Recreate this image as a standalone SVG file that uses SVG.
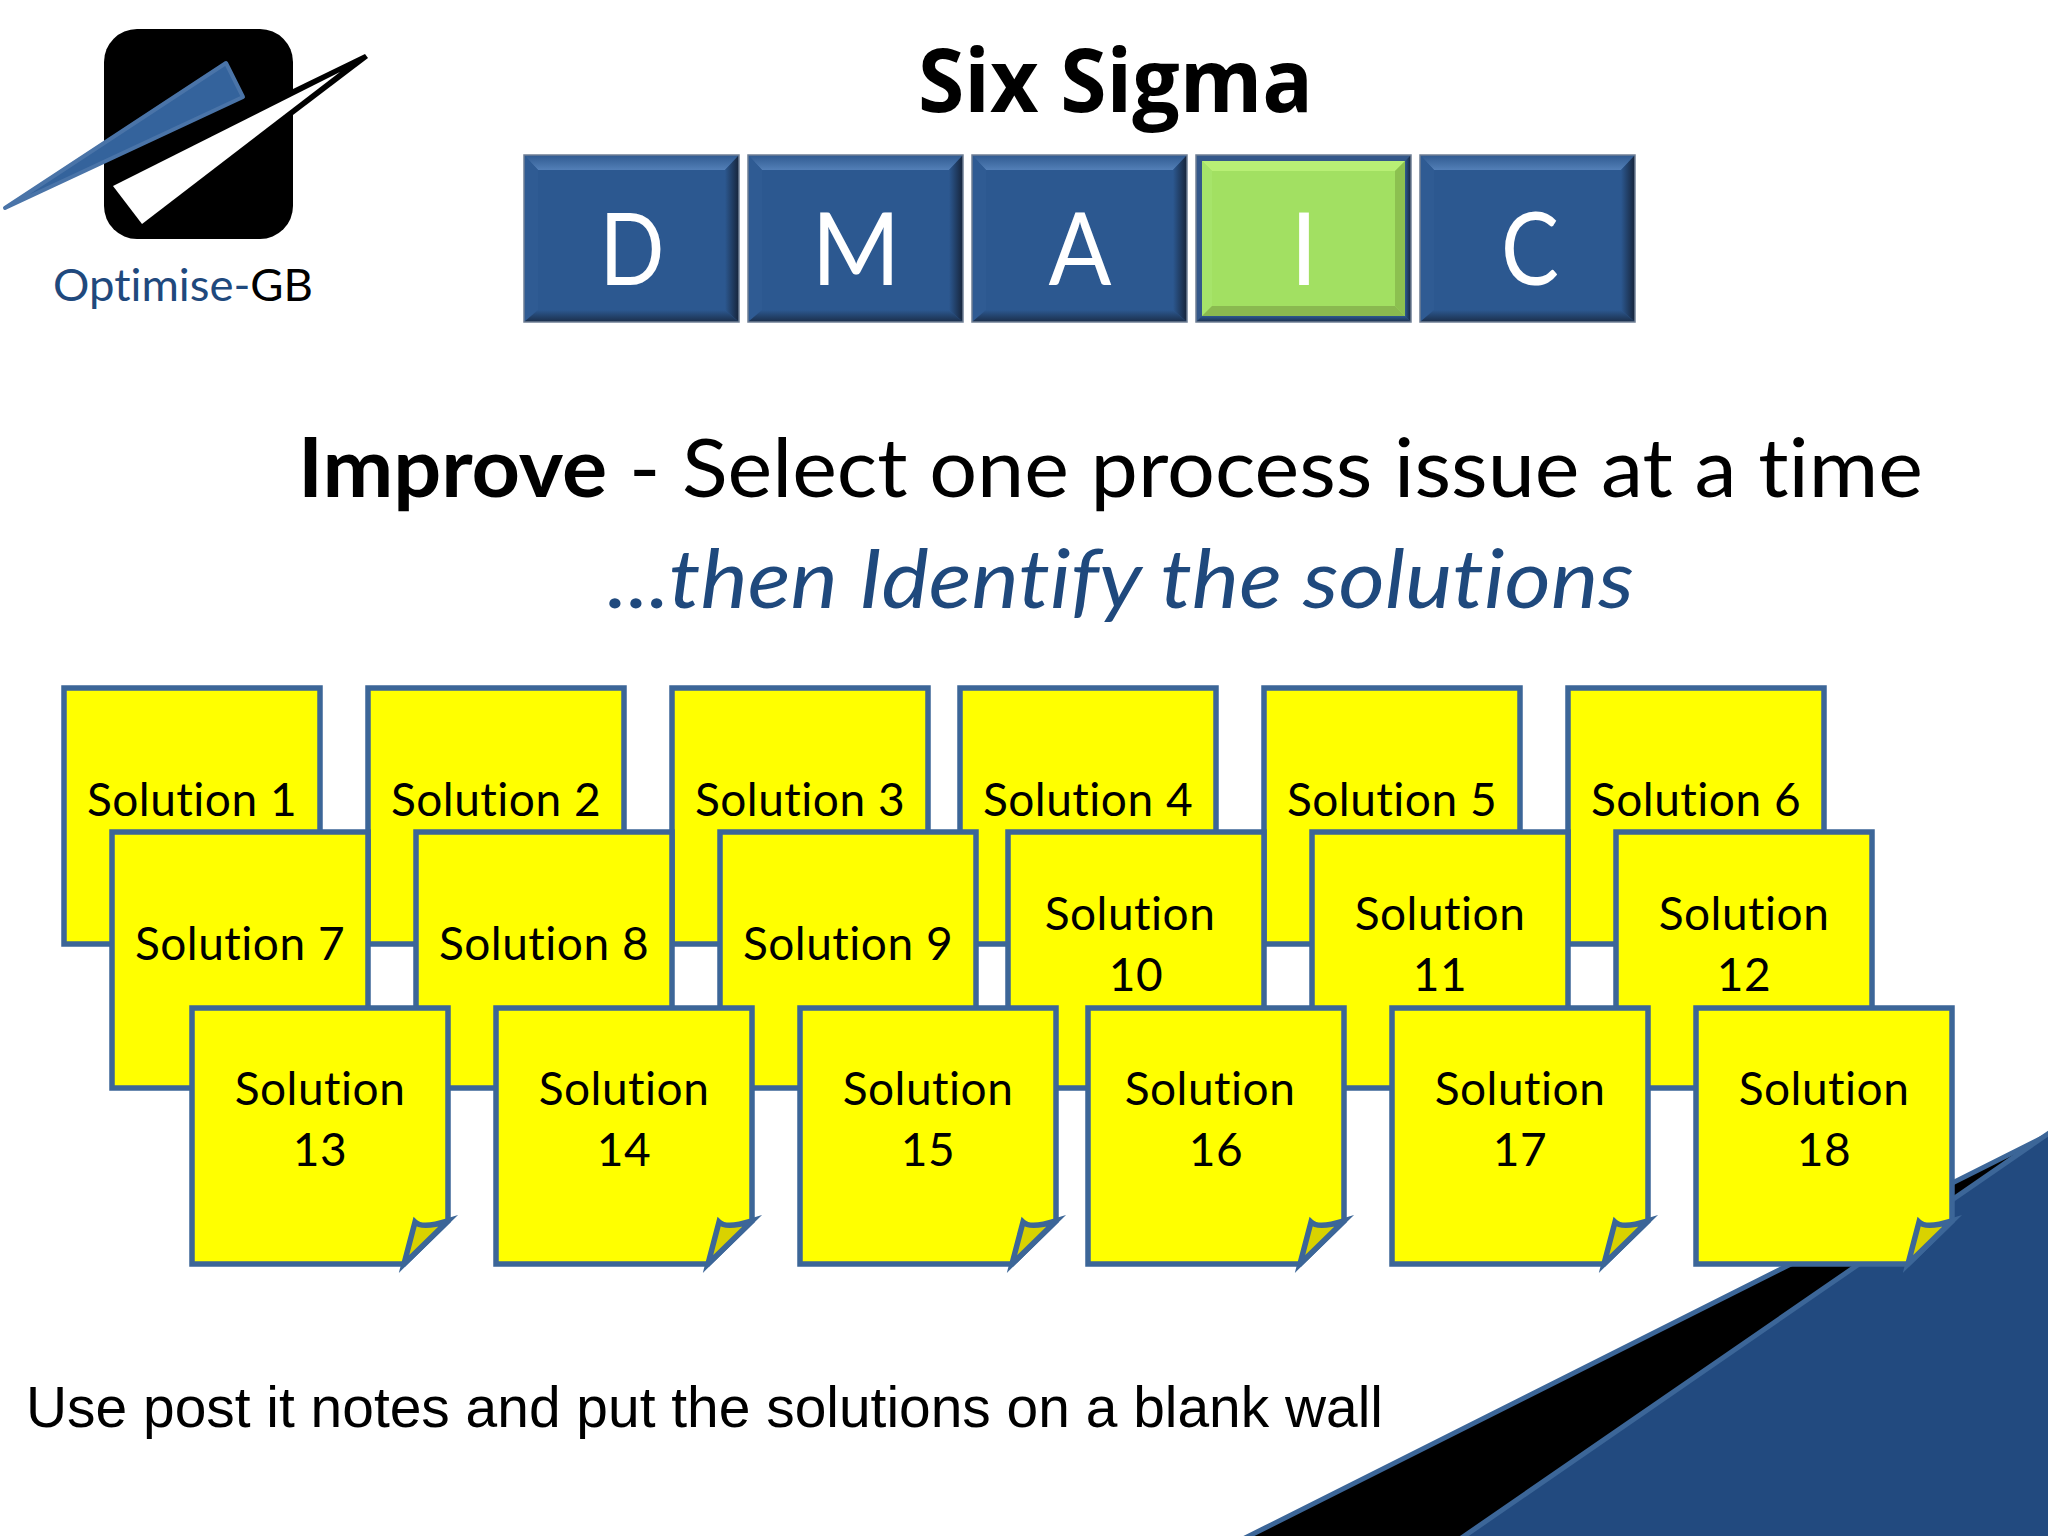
<svg xmlns="http://www.w3.org/2000/svg" xmlns:xlink="http://www.w3.org/1999/xlink" width="2048" height="1536" viewBox="0 0 2048 1536">
<style>
text{font-family:Lato,"Liberation Sans",sans-serif;font-variant-ligatures:none}
.n{font-size:46px;letter-spacing:.5px;fill:#000;text-anchor:middle}
.l{font-size:100px;fill:#fff;text-anchor:middle}
.note{fill:#ff0;stroke:#3c6698;stroke-width:5.5;stroke-miterlimit:10}
.fold{fill:#d9d200;stroke:#3c6698;stroke-width:5.5;stroke-miterlimit:10}
.face{fill:#2c5890}.fl{fill:#2f5b93}
.gface{fill:#a2e062}.gt{fill:#b8ef75}.gl{fill:#a6e46a}.gr{fill:#8cc050}.gb{fill:#8ab950}
.edge{fill:none;stroke:#6f7f95;stroke-width:1.5}
</style>
<defs>
<linearGradient id="gTop" x1="0" y1="0" x2="0" y2="1"><stop offset="0" stop-color="#2f5a90"/><stop offset="1" stop-color="#537fb7"/></linearGradient>
<linearGradient id="gRight" x1="0" y1="0" x2="1" y2="0"><stop offset="0" stop-color="#2c5890"/><stop offset="1" stop-color="#16243a"/></linearGradient>
<linearGradient id="gBot" x1="0" y1="0" x2="0" y2="1"><stop offset="0" stop-color="#2c5890"/><stop offset="1" stop-color="#1b2e4a"/></linearGradient>
<g id="noteShape">
<path class="note" d="M0 0H256V213L212 256H0Z"/>
<path class="fold" d="M212 256L223 214Q230 221 256 213Z"/>
</g>
<g id="bevelBlue">
<rect class="face" width="215" height="167"/>
<polygon fill="url(#gTop)" points="0,0 215,0 201,15 14,15"/>
<polygon class="fl" points="0,0 14,15 14,155 0,167"/>
<polygon fill="url(#gRight)" points="215,0 201,15 201,155 215,167"/>
<polygon fill="url(#gBot)" points="0,167 14,155 201,155 215,167"/>
<rect class="edge" width="215" height="167"/>
</g>
<g id="bevelGreen">
<rect fill="#34588a" width="215" height="167"/>
<polygon fill="url(#gRight)" points="215,0 209,6 209,161 215,167"/>
<polygon fill="url(#gBot)" points="0,167 6,161 209,161 215,167"/>
<rect class="gface" x="6" y="6" width="203" height="155"/>
<polygon class="gt" points="6,6 209,6 199,16 16,16"/>
<polygon class="gl" points="6,6 16,16 16,151 6,161"/>
<polygon class="gr" points="209,6 199,16 199,151 209,161"/>
<polygon class="gb" points="6,161 16,151 199,151 209,161"/>
<rect class="edge" width="215" height="167"/>
</g>
</defs>
<rect width="2048" height="1536" fill="#fff"/>

<g id="corner">
<polygon points="1243,1539 2052,1133 2052,1539" fill="#000" stroke="#3c6698" stroke-width="5"/>
<polygon points="1460,1539 2052,1131 2052,1539" fill="#224a7f" stroke="#3c6698" stroke-width="5"/>
</g>

<g id="logo">
<rect x="104" y="29" width="189" height="210" rx="33" fill="#000"/>
<polygon points="293,89 365,54 368,58 293,115" fill="#000"/>
<polygon points="113,186 340,72 142,224" fill="#fff"/>
<polygon points="5,208 226,63 243,97" fill="#34639c" stroke="#4a74a8" stroke-width="4" stroke-linejoin="round"/>
<text x="53" y="301" font-size="45" textLength="260" lengthAdjust="spacingAndGlyphs" fill="#1f497d">Optimise-<tspan fill="#000">GB</tspan></text>
</g>

<g id="title"><text x="918" y="112" font-size="88" font-weight="700" style="font-family:'Open Sans',Lato,sans-serif" textLength="395" lengthAdjust="spacingAndGlyphs" fill="#000">Six Sigma</text></g>

<g id="dmaic-d"><use xlink:href="#bevelBlue" href="#bevelBlue" x="524" y="155"/><text class="l" x="632" y="285" textLength="65" lengthAdjust="spacingAndGlyphs">D</text></g>
<g id="dmaic-m"><use xlink:href="#bevelBlue" href="#bevelBlue" x="748" y="155"/><text class="l" x="856" y="285" textLength="89" lengthAdjust="spacingAndGlyphs">M</text></g>
<g id="dmaic-a"><use xlink:href="#bevelBlue" href="#bevelBlue" x="972" y="155"/><text class="l" x="1080" y="285" textLength="63" lengthAdjust="spacingAndGlyphs">A</text></g>
<g id="dmaic-i"><use xlink:href="#bevelGreen" href="#bevelGreen" x="1196" y="155"/><text class="l" x="1304" y="285">I</text></g>
<g id="dmaic-c"><use xlink:href="#bevelBlue" href="#bevelBlue" x="1420" y="155"/><text class="l" x="1530" y="285" textLength="58" lengthAdjust="spacingAndGlyphs">C</text></g>

<g id="heading"><text x="298" y="497" font-size="82" textLength="1625" lengthAdjust="spacingAndGlyphs" fill="#000"><tspan font-weight="700">Improve</tspan> - Select one process issue at a time</text></g>
<g id="subheading"><text x="607" y="608" font-size="82" font-style="italic" textLength="1027" lengthAdjust="spacingAndGlyphs" fill="#1f497d">...then Identify the solutions</text></g>

<g id="note1" transform="translate(64,688)"><use href="#noteShape" xlink:href="#noteShape"/><text class="n" x="128" y="128">Solution 1</text></g>
<g id="note2" transform="translate(368,688)"><use href="#noteShape" xlink:href="#noteShape"/><text class="n" x="128" y="128">Solution 2</text></g>
<g id="note3" transform="translate(672,688)"><use href="#noteShape" xlink:href="#noteShape"/><text class="n" x="128" y="128">Solution 3</text></g>
<g id="note4" transform="translate(960,688)"><use href="#noteShape" xlink:href="#noteShape"/><text class="n" x="128" y="128">Solution 4</text></g>
<g id="note5" transform="translate(1264,688)"><use href="#noteShape" xlink:href="#noteShape"/><text class="n" x="128" y="128">Solution 5</text></g>
<g id="note6" transform="translate(1568,688)"><use href="#noteShape" xlink:href="#noteShape"/><text class="n" x="128" y="128">Solution 6</text></g>

<g id="note7" transform="translate(112,832)"><use href="#noteShape" xlink:href="#noteShape"/><text class="n" x="128" y="128">Solution 7</text></g>
<g id="note8" transform="translate(416,832)"><use href="#noteShape" xlink:href="#noteShape"/><text class="n" x="128" y="128">Solution 8</text></g>
<g id="note9" transform="translate(720,832)"><use href="#noteShape" xlink:href="#noteShape"/><text class="n" x="128" y="128">Solution 9</text></g>
<g id="note10" transform="translate(1008,832)"><use href="#noteShape" xlink:href="#noteShape"/><text class="n" x="122" y="98">Solution</text><text class="n" x="128" y="159">10</text></g>
<g id="note11" transform="translate(1312,832)"><use href="#noteShape" xlink:href="#noteShape"/><text class="n" x="128" y="98">Solution</text><text class="n" x="128" y="159">11</text></g>
<g id="note12" transform="translate(1616,832)"><use href="#noteShape" xlink:href="#noteShape"/><text class="n" x="128" y="98">Solution</text><text class="n" x="128" y="159">12</text></g>

<g id="note13" transform="translate(192,1008)"><use href="#noteShape" xlink:href="#noteShape"/><text class="n" x="128" y="97">Solution</text><text class="n" x="128" y="158">13</text></g>
<g id="note14" transform="translate(496,1008)"><use href="#noteShape" xlink:href="#noteShape"/><text class="n" x="128" y="97">Solution</text><text class="n" x="128" y="158">14</text></g>
<g id="note15" transform="translate(800,1008)"><use href="#noteShape" xlink:href="#noteShape"/><text class="n" x="128" y="97">Solution</text><text class="n" x="128" y="158">15</text></g>
<g id="note16" transform="translate(1088,1008)"><use href="#noteShape" xlink:href="#noteShape"/><text class="n" x="122" y="97">Solution</text><text class="n" x="128" y="158">16</text></g>
<g id="note17" transform="translate(1392,1008)"><use href="#noteShape" xlink:href="#noteShape"/><text class="n" x="128" y="97">Solution</text><text class="n" x="128" y="158">17</text></g>
<g id="note18" transform="translate(1696,1008)"><use href="#noteShape" xlink:href="#noteShape"/><text class="n" x="128" y="97">Solution</text><text class="n" x="128" y="158">18</text></g>

<g id="caption"><text x="26" y="1427" font-size="57" fill="#000" style="font-family:'Liberation Sans',Arial,sans-serif" textLength="1357" lengthAdjust="spacingAndGlyphs">Use post it notes and put the solutions on a blank wall</text></g>
<g id="connectors"></g>
</svg>
